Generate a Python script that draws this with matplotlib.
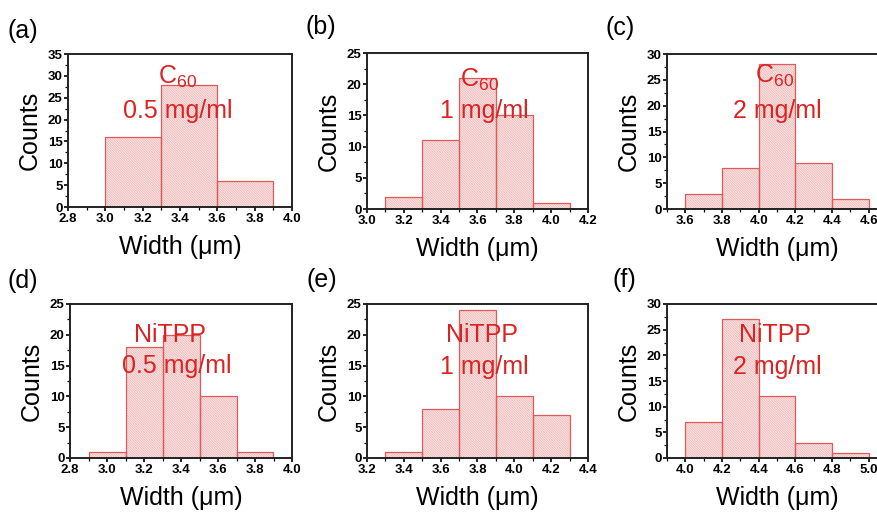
import numpy as np
import matplotlib
matplotlib.use("Agg")
import matplotlib.pyplot as plt
from matplotlib.ticker import MultipleLocator

plt.rcParams["font.family"] = ["Liberation Sans", "DejaVu Sans"]
plt.rcParams["font.weight"] = "bold"  # tick labels are bold in the original
plt.rcParams["mathtext.fontset"] = "custom"
plt.rcParams["mathtext.rm"] = "Liberation Sans"
plt.rcParams["hatch.linewidth"] = 0.4

# bin edges and counts
edges_a = [3.0, 3.3, 3.6, 3.9]
counts_a = [16, 28, 6]
edges_b = [3.1, 3.3, 3.5, 3.7, 3.9, 4.1]
counts_b = [2, 11, 21, 15, 1]
edges_c = [3.6, 3.8, 4.0, 4.2, 4.4, 4.6]
counts_c = [3, 8, 28, 9, 2]
edges_d = [2.9, 3.1, 3.3, 3.5, 3.7, 3.9]
counts_d = [1, 18, 20, 10, 1]
edges_e = [3.3, 3.5, 3.7, 3.9, 4.1, 4.3]
counts_e = [1, 8, 24, 10, 7]
edges_f = [4.0, 4.2, 4.4, 4.6, 4.8, 5.0]
counts_f = [7, 27, 12, 3, 1]

tags = ["(a)", "(b)", "(c)", "(d)", "(e)", "(f)"]
names = [r"$\mathregular{C_{60}}$"] * 3 + ["NiTPP"] * 3
concs = ["0.5 mg/ml", "1 mg/ml", "2 mg/ml"] * 2

W, H = 878, 513
RED = "#dd2222"

fig = plt.figure(figsize=(W / 100, H / 100), dpi=100)

# pixel boxes: x0, x1, y0(top), y1(bottom); the right column runs past the edge
boxes = [
    (68, 292, 54, 207),
    (367, 588, 53, 209),
    (667, 887, 54, 209),
    (70, 292, 304, 458),
    (367, 588, 304, 458),
    (667, 887, 304, 458),
]
xlims = [(2.8, 4.0), (3.0, 4.2), (3.5, 4.7), (2.8, 4.0), (3.2, 4.4), (3.9, 5.1)]
ylims = [35, 25, 30, 25, 25, 30]
data = [
    (edges_a, counts_a),
    (edges_b, counts_b),
    (edges_c, counts_c),
    (edges_d, counts_d),
    (edges_e, counts_e),
    (edges_f, counts_f),
]
text_pos = [
    (0.487, 0.85, 0.49, 0.63),
    (0.51, 0.83, 0.53, 0.63),
    (0.49, 0.86, 0.50, 0.63),
    (0.45, 0.80, 0.48, 0.60),
    (0.52, 0.80, 0.53, 0.59),
    (0.49, 0.80, 0.50, 0.59),
]
tag_pos = [(8, 31), (306, 27), (606, 28), (8, 281), (307, 280), (613, 280)]

for i in range(6):
    x0, x1, y0, y1 = boxes[i]
    wpx, hpx = x1 - x0, y1 - y0
    ax = fig.add_axes([x0 / W, (H - y1) / H, wpx / W, hpx / H])
    edges, counts = data[i]
    edges = np.array(edges)
    # hatch layer (light), then outline layer
    ax.bar(edges[:-1], counts, width=np.diff(edges), align="edge",
           facecolor="#fbe9e9", edgecolor="#eaa0a0", linewidth=0,
           hatch="\\" * 14)
    ax.bar(edges[:-1], counts, width=np.diff(edges), align="edge",
           facecolor="none", edgecolor="#e05a5a", linewidth=0.9)
    ax.set_xlim(*xlims[i])
    ax.set_ylim(0, ylims[i])
    ax.xaxis.set_major_locator(MultipleLocator(0.2))
    ax.xaxis.set_minor_locator(MultipleLocator(0.1))
    ax.yaxis.set_major_locator(MultipleLocator(5))
    ax.yaxis.set_minor_locator(MultipleLocator(2.5))
    ax.tick_params(which="major", direction="out", length=3, width=1.2,
                   labelsize=9.5, pad=1)
    ax.tick_params(which="minor", direction="out", length=2, width=0.9)
    for sp in ax.spines.values():
        sp.set_linewidth(1.4)
        sp.set_color("#222222")
    ax.set_xlabel("Width (μm)", fontsize=18, fontweight="normal")
    ax.set_ylabel("Counts", fontsize=18, fontweight="normal")
    ax.xaxis.set_label_coords(0.5, -28 / hpx)
    ax.yaxis.set_label_coords(-26 / wpx, 0.5)
    tx1, ty1, tx2, ty2 = text_pos[i]
    ax.text(tx1, ty1, names[i], transform=ax.transAxes, color=RED,
            fontsize=18, fontweight="normal", ha="center", va="center")
    ax.text(tx2, ty2, concs[i], transform=ax.transAxes, color=RED,
            fontsize=18, fontweight="normal", ha="center", va="center")
    px, py = tag_pos[i]
    fig.text(px / W, 1 - py / H, tags[i], fontsize=18, fontweight="normal",
             ha="left", va="center")

fig.savefig("out.png", dpi=100)
